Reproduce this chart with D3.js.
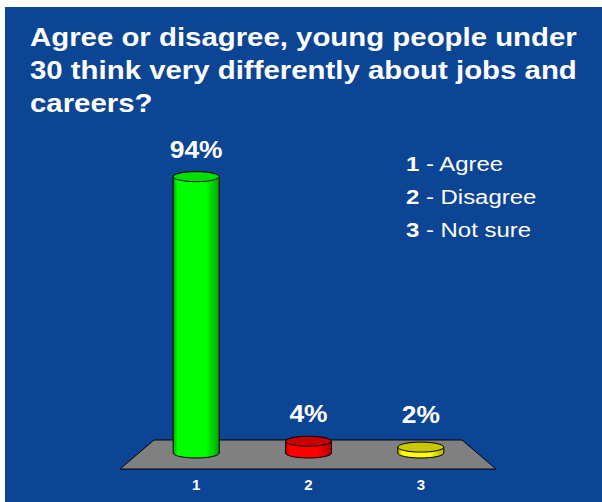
<!DOCTYPE html>
<html>
<head>
<meta charset="utf-8">
<script src="https://cdn.jsdelivr.net/npm/d3@7/dist/d3.min.js"></script>
<style>
  html, body { margin: 0; padding: 0; background: #ffffff; }
  svg { display: block; }
</style>
</head>
<body>
<svg id="chart" width="602" height="502"></svg>
<script>
// Survey answers
const categories = ["1", "2", "3"];
const answers = ["Agree", "Disagree", "Not sure"];
const percents = [94, 4, 2];
const titleLines = [
  "Agree or disagree, young people under",
  "30 think very differently about jobs and",
  "careers?"
];

const sideColors = ["#00ff00", "#ff0000", "#ffff00"];
const topColors = ["#00e000", "#c80000", "#c8c800"];
const edgeColors = ["#00a800", "#b00000", "#b0b000"];

const svg = d3.select("#chart");
const font = "'Liberation Sans', Arial, sans-serif";

// Background panel
svg.append("rect")
  .attr("x", 5).attr("y", 7)
  .attr("width", 597).attr("height", 495)
  .attr("fill", "#0c4594");

// Title (slightly widened lettering)
svg.append("g").selectAll("text")
  .data(titleLines)
  .join("text")
  .attr("transform", (d, i) => `translate(30,${46 + i * 33}) scale(1.13,1)`)
  .attr("fill", "#ffffff")
  .attr("font-family", font)
  .attr("font-weight", "bold")
  .attr("font-size", 26)
  .text(d => d);

// Scales
const x = d3.scalePoint().domain(categories).range([140, 477]).padding(0.5);
const y = d3.scaleLinear().domain([0, 100]).range([453, 159]);
const barW = 46;
const ry = 5;

// Floor (perspective plane)
const floorBack = 440, floorFront = 469;
svg.append("path")
  .attr("d", `M154,${floorBack} L462,${floorBack} L496,${floorFront} L120,${floorFront} Z`)
  .attr("fill", "#808080")
  .attr("stroke", "#000000")
  .attr("stroke-width", 1);

// Side gradients
const defs = svg.append("defs");
categories.forEach((c, i) => {
  const g = defs.append("linearGradient")
    .attr("id", "side" + i)
    .attr("x1", "0%").attr("x2", "100%").attr("y1", "0%").attr("y2", "0%");
  g.append("stop").attr("offset", "0%").attr("stop-color", edgeColors[i]);
  g.append("stop").attr("offset", "10%").attr("stop-color", sideColors[i]);
  g.append("stop").attr("offset", "70%").attr("stop-color", sideColors[i]);
  g.append("stop").attr("offset", "100%").attr("stop-color", edgeColors[i]);
});

// Cylinders
const bars = svg.append("g");
categories.forEach((c, i) => {
  const cx = x(c);
  const x0 = cx - barW / 2, x1 = cx + barW / 2;
  const yb = y(0), yt = y(percents[i]);
  const rx = barW / 2;
  bars.append("path")
    .attr("d", `M${x0},${yt} L${x0},${yb} A${rx},${ry} 0 0 0 ${x1},${yb} L${x1},${yt} Z`)
    .attr("fill", `url(#side${i})`)
    .attr("stroke", "#000000")
    .attr("stroke-width", 1);
  bars.append("ellipse")
    .attr("cx", cx).attr("cy", yt)
    .attr("rx", rx).attr("ry", ry)
    .attr("fill", topColors[i])
    .attr("stroke", "#000000")
    .attr("stroke-width", 1);
});

// Value labels
svg.append("g").selectAll("text")
  .data(categories)
  .join("text")
  .attr("transform", (d, i) =>
    `translate(${x(d)},${Math.min(y(percents[i]) - 19, floorBack - 17)}) scale(1.1,1)`)
  .attr("text-anchor", "middle")
  .attr("fill", "#ffffff")
  .attr("font-family", font)
  .attr("font-weight", "bold")
  .attr("font-size", 24)
  .text((d, i) => percents[i] + "%");

// Category axis labels
svg.append("g").selectAll("text")
  .data(categories)
  .join("text")
  .attr("x", d => x(d))
  .attr("y", 490)
  .attr("text-anchor", "middle")
  .attr("fill", "#ffffff")
  .attr("font-family", font)
  .attr("font-weight", "bold")
  .attr("font-size", 15)
  .text(d => d);

// Legend
const legend = svg.append("g").selectAll("text")
  .data(categories)
  .join("text")
  .attr("transform", (d, i) => `translate(406,${171 + i * 33}) scale(1.14,1)`)
  .attr("fill", "#ffffff")
  .attr("font-family", font)
  .attr("font-size", 21);
legend.append("tspan").attr("font-weight", "bold").text(d => d);
legend.append("tspan").text((d, i) => " - " + answers[i]);
</script>
</body>
</html>
